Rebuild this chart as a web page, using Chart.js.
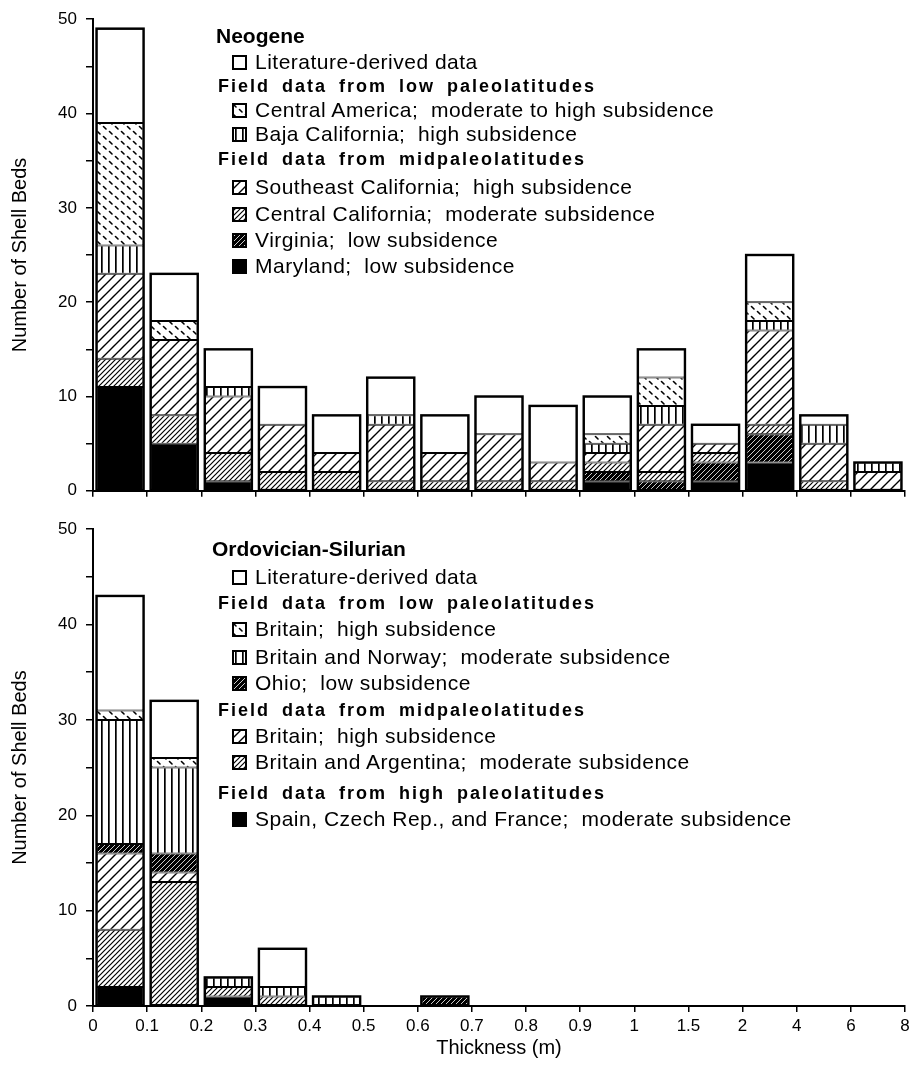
<!DOCTYPE html>
<html><head><meta charset="utf-8">
<script src="https://cdn.jsdelivr.net/npm/chart.js@4.4.0/dist/chart.umd.min.js"></script>
<style>
html,body{margin:0;padding:0;background:#fff;}
#wrap{position:relative;width:917px;height:1074px;overflow:hidden;font-family:"Liberation Sans",Arial,Helvetica,sans-serif;color:#000;}
#wrap canvas.chart{position:absolute;left:0;}
.lg{position:absolute;white-space:pre;line-height:26px;height:26px;}
.t{font-weight:bold;font-size:21px;}
.h{font-weight:bold;font-size:18px;letter-spacing:2px;word-spacing:5px;}
.i{font-size:21px;letter-spacing:0.5px;}
.sw{position:absolute;}
</style></head><body><div id="wrap">
<canvas class="chart" id="c1" width="917" height="510" style="top:0"></canvas>
<canvas class="chart" id="c2" width="917" height="564" style="top:510px"></canvas>
</div>
<script>
// ---------- data ----------
const tickLabels = ['0','0.1','0.2','0.3','0.4','0.5','0.6','0.7','0.8','0.9','1','1.5','2','4','6','8'];

// Neogene (bottom-up stacking order)
const neoMaryland   = [11,5,1,0,0,0,0,0,0,1,0,1,3,0,0];
const neoVirginia   = [0,0,0,0,0,0,0,0,0,1,1,2,3,0,0];
const neoCentralCal = [3,3,3,2,2,1,1,1,1,1,1,1,1,1,0];
const neoSECal      = [9,8,6,5,2,6,3,5,2,1,5,1,10,4,2];
const neoBaja       = [3,0,1,0,0,1,0,0,0,1,2,0,1,2,1];
const neoCentralAm  = [13,2,0,0,0,0,0,0,0,1,3,0,2,0,0];
const neoLiterature = [10,5,4,4,4,4,4,4,6,4,3,2,5,1,0];

// Ordovician-Silurian (bottom-up stacking order)
const ordSpain      = [2,0,1,0,0,0,0,0,0,0,0,0,0,0,0];
const ordBritArg    = [6,13,1,1,0,0,0,0,0,0,0,0,0,0,0];
const ordBritMid    = [8,1,0,0,0,0,0,0,0,0,0,0,0,0,0];
const ordOhio       = [1,2,0,0,0,0,1,0,0,0,0,0,0,0,0];
const ordBritNorway = [13,9,1,1,1,0,0,0,0,0,0,0,0,0,0];
const ordBritLow    = [1,1,0,0,0,0,0,0,0,0,0,0,0,0,0];
const ordLiterature = [12,6,0,4,0,0,0,0,0,0,0,0,0,0,0];

const yTicksMax = 50;

// ---------- patterns ----------
function diag(g, s, w, color){
  g.strokeStyle = color; g.lineWidth = w; g.beginPath();
  g.moveTo(0, s); g.lineTo(s, 0);
  g.moveTo(-2, 2); g.lineTo(2, -2);
  g.moveTo(s-2, s+2); g.lineTo(s+2, s-2);
  g.stroke();
}
function pat(kind){
  if (kind === 'white') return '#ffffff';
  if (kind === 'black') return '#000000';
  const c = document.createElement('canvas');
  const g = c.getContext('2d');
  let s;
  if (kind === 'vert'){
    s = 7; c.width = s; c.height = s;
    g.fillStyle = '#fff'; g.fillRect(0,0,s,s);
    g.fillStyle = '#000'; g.fillRect(3,0,1.7,s);
  } else if (kind === 'wide'){
    s = 10; c.width = s; c.height = s;
    g.fillStyle = '#fff'; g.fillRect(0,0,s,s);
    diag(g, s, 1.4, '#000');
  } else if (kind === 'med'){
    s = 5; c.width = s; c.height = s;
    g.fillStyle = '#fff'; g.fillRect(0,0,s,s);
    diag(g, s, 1.2, '#000');
  } else if (kind === 'dark'){
    s = 5; c.width = s; c.height = s;
    g.fillStyle = '#000'; g.fillRect(0,0,s,s);
    diag(g, s, 0.8, '#fff');
  } else if (kind === 'dash'){
    c.width = 12; c.height = 10;
    g.fillStyle = '#fff'; g.fillRect(0,0,12,10);
    g.strokeStyle = '#000'; g.lineWidth = 1.6; g.lineCap = 'round'; g.beginPath();
    g.moveTo(1.5,1.5); g.lineTo(4,4);
    g.moveTo(7.5,6.5); g.lineTo(10,9);
    g.stroke();
  }
  return g.createPattern(c, 'repeat');
}

// ---------- chart builders ----------
const outlinePlugin = {
  id: 'outline',
  afterDatasetsDraw(chart){
    const ctx = chart.ctx;
    const n = tickLabels.length - 1;
    ctx.save(); ctx.strokeStyle = '#000'; ctx.lineWidth = 2.4;
    for (let i = 0; i < n; i++){
      let top = Infinity, bot = -Infinity, l = 0, r = 0, found = false;
      chart.data.datasets.forEach((ds, di) => {
        const el = chart.getDatasetMeta(di).data[i];
        if (!el || ds.data[i].y == null) return;
        const p = el.getProps(['x','y','base','width'], true);
        top = Math.min(top, p.y, p.base); bot = Math.max(bot, p.y, p.base);
        l = p.x - p.width/2; r = p.x + p.width/2; found = true;
      });
      if (found) ctx.strokeRect(l, top, r - l, bot - top);
    }
    ctx.restore();
  }
};

function series(vals){ return vals.map((v, i) => ({x: i + 0.5, y: v ? v : null})); }
const FONT = '"Liberation Sans", Arial, sans-serif';

function makeChart(id, layers, bottom){
  const datasets = layers.map(L => ({
    label: L.label, data: series(L.values), backgroundColor: pat(L.kind),
    borderColor: '#000', borderWidth: 1, borderSkipped: false,
    barPercentage: 0.87, categoryPercentage: 1.0
  }));
  return new Chart(document.getElementById(id), {
    type: 'bar',
    data: { datasets },
    plugins: [outlinePlugin],
    options: {
      responsive: false, animation: false, events: [],
      layout: { padding: { left: 0, right: 12, top: bottom ? 18 : 17, bottom: bottom ? 14 : 0 } },
      plugins: { legend: { display: false }, tooltip: { enabled: false } },
      scales: {
        x: {
          type: 'linear', stacked: true, min: 0, max: tickLabels.length - 1, offset: false,
          ticks: { stepSize: 1, autoSkip: false, maxTicksLimit: 30, maxRotation: 0, color: '#000',
                   padding: 4, font: { size: 17, family: FONT },
                   callback: v => bottom ? tickLabels[v] : '' },
          grid: { drawOnChartArea: false, offset: false, tickLength: 6, color: '#000', lineWidth: 1.5 },
          border: { color: '#000', width: 2 },
          title: { display: bottom, text: 'Thickness (m)', color: '#000', padding: { top: 0, bottom: 0 },
                   font: { size: 20, family: FONT } },
          afterFit: s => { s.height = bottom ? 54 : 18; }
        },
        y: {
          stacked: true, min: 0, max: yTicksMax,
          ticks: { stepSize: 5, color: '#000', padding: 9,
                   font: { size: 17, family: FONT },
                   callback: v => (v % 10 === 0 ? v : '') },
          grid: { drawOnChartArea: false, tickLength: 7, color: '#000', lineWidth: 1.5 },
          border: { color: '#000', width: 2 },
          title: { display: true, text: 'Number of Shell Beds', color: '#000', padding: { top: 8, bottom: 0 },
                   font: { size: 20, family: FONT } },
          afterFit: s => { s.width = 93; }
        }
      }
    }
  });
}

const neoLabels = ['Maryland;  low subsidence','Virginia;  low subsidence','Central California;  moderate subsidence',
  'Southeast California;  high subsidence','Baja California;  high subsidence',
  'Central America;  moderate to high subsidence','Literature-derived data'];
const neoKinds = ['black','dark','med','wide','vert','dash','white'];
const neoValues = [neoMaryland, neoVirginia, neoCentralCal, neoSECal, neoBaja, neoCentralAm, neoLiterature];

const ordLabels = ['Spain, Czech Rep., and France;  moderate subsidence','Britain and Argentina;  moderate subsidence',
  'Britain;  high subsidence','Ohio;  low subsidence','Britain and Norway;  moderate subsidence',
  'Britain;  high subsidence','Literature-derived data'];
const ordKinds = ['black','med','wide','dark','vert','dash','white'];
const ordValues = [ordSpain, ordBritArg, ordBritMid, ordOhio, ordBritNorway, ordBritLow, ordLiterature];

makeChart('c1', neoValues.map((v,i) => ({label: neoLabels[i], kind: neoKinds[i], values: v})), false);
makeChart('c2', ordValues.map((v,i) => ({label: ordLabels[i], kind: ordKinds[i], values: v})), true);

// ---------- legends (HTML text) ----------
const neoTitle = 'Neogene';
const ordTitle = 'Ordovician-Silurian';
const hdrLow = 'Field data from low paleolatitudes';
const hdrMid = 'Field data from midpaleolatitudes';
const hdrHigh = 'Field data from high paleolatitudes';

const wrap = document.getElementById('wrap');
function addText(cls, text, x, yc){
  const d = document.createElement('div');
  d.className = 'lg ' + cls; d.textContent = text;
  d.style.left = x + 'px'; d.style.top = (yc - 13) + 'px';
  wrap.appendChild(d);
}
function addItem(kind, text, yc){
  const c = document.createElement('canvas');
  c.className = 'sw'; c.width = 15; c.height = 15;
  c.style.left = '232px'; c.style.top = (yc - 7) + 'px';
  const g = c.getContext('2d');
  g.fillStyle = pat(kind); g.fillRect(0,0,15,15);
  g.strokeStyle = '#000'; g.lineWidth = 2; g.strokeRect(1,1,13,13);
  wrap.appendChild(c);
  addText('i', text, 255, yc);
}
// Neogene legend
addText('t', neoTitle, 216, 36);
addItem(neoKinds[6], neoLabels[6], 62);
addText('h', hdrLow, 218, 86);
addItem(neoKinds[5], neoLabels[5], 110);
addItem(neoKinds[4], neoLabels[4], 134);
addText('h', hdrMid, 218, 159);
addItem(neoKinds[3], neoLabels[3], 187);
addItem(neoKinds[2], neoLabels[2], 214);
addItem(neoKinds[1], neoLabels[1], 240);
addItem(neoKinds[0], neoLabels[0], 266);
// Ordovician-Silurian legend
addText('t', ordTitle, 212, 549);
addItem(ordKinds[6], ordLabels[6], 577);
addText('h', hdrLow, 218, 603);
addItem(ordKinds[5], ordLabels[5], 629);
addItem(ordKinds[4], ordLabels[4], 657);
addItem(ordKinds[3], ordLabels[3], 683);
addText('h', hdrMid, 218, 710);
addItem(ordKinds[2], ordLabels[2], 736);
addItem(ordKinds[1], ordLabels[1], 762);
addText('h', hdrHigh, 218, 793);
addItem(ordKinds[0], ordLabels[0], 819);
</script>
</body></html>
